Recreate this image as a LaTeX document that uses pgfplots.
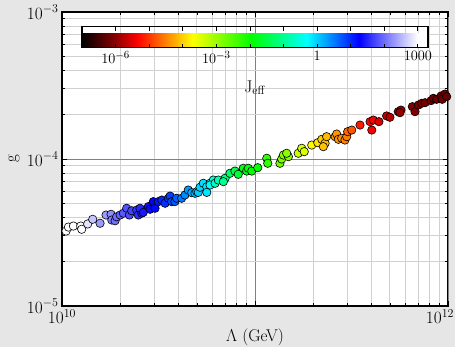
\documentclass[border=0pt]{standalone}
\usepackage{pgfplots}
\usepackage{pgfplotstable}
\pgfplotsset{compat=1.18}
\definecolor{bg}{RGB}{230,230,230}
\pgfplotstableread{
lx ly c
10.021 -4.490 3.1
10.033 -4.463 3.0
10.059 -4.456 3.0
10.097 -4.456 3.0
10.102 -4.478 3.0
10.133 -4.442 2.8
10.159 -4.410 2.6
10.197 -4.437 2.3
10.228 -4.381 2.3
10.254 -4.376 2.2
10.258 -4.415 2.1
10.275 -4.420 2.0
10.283 -4.393 2.0
10.301 -4.381 1.9
10.318 -4.369 1.85
10.335 -4.335 1.8
10.349 -4.381 1.75
10.361 -4.352 1.7
10.387 -4.347 1.6
10.395 -4.381 1.55
10.413 -4.369 1.45
10.404 -4.335 1.5
10.421 -4.363 1.4
10.447 -4.324 1.35
10.456 -4.342 1.3
10.473 -4.290 1.25
10.482 -4.335 1.2
10.499 -4.290 1.1
10.517 -4.279 1.0
10.534 -4.301 0.95
10.551 -4.267 0.9
10.560 -4.252 0.85
10.568 -4.290 0.8
10.585 -4.290 0.7
10.594 -4.267 0.65
10.620 -4.267 0.5
10.637 -4.245 0.4
10.654 -4.211 0.3
10.672 -4.229 0.2
10.689 -4.233 0.1
10.698 -4.222 0.05
10.706 -4.227 0.0
10.715 -4.192 -0.05
10.732 -4.165 -0.1
10.750 -4.188 -0.15
10.750 -4.227 -0.15
10.767 -4.165 -0.3
10.784 -4.143 -0.5
10.767 -4.177 -0.35
10.793 -4.165 -0.7
10.810 -4.143 -0.8
10.845 -4.131 -1.1
10.836 -4.154 -1.0
10.870 -4.097 -1.3
10.896 -4.082 -1.5
10.913 -4.104 -1.6
10.939 -4.063 -1.8
10.957 -4.082 -1.85
10.965 -4.063 -1.9
10.983 -4.082 -1.95
11.014 -4.059 -2.0
11.061 -3.995 -2.3
11.066 -4.029 -2.3
11.129 -4.029 -2.7
11.138 -4.000 -2.8
11.147 -3.973 -2.85
11.173 -3.984 -2.9
11.164 -3.961 -2.9
11.224 -3.961 -3.35
11.242 -3.927 -3.4
11.255 -3.950 -3.45
11.294 -3.905 -3.75
11.325 -3.889 -3.9
11.346 -3.866 -4.05
11.363 -3.893 -4.1
11.354 -3.916 -4.1
11.371 -3.848 -4.15
11.415 -3.848 -4.35
11.423 -3.830 -4.4
11.432 -3.866 -4.4
11.449 -3.859 -4.45
11.466 -3.871 -4.5
11.475 -3.848 -4.55
11.480 -3.814 -4.7
11.501 -3.803 -4.8
11.544 -3.769 -5.2
11.596 -3.746 -5.35
11.613 -3.735 -5.4
11.605 -3.803 -5.4
11.642 -3.746 -5.55
11.682 -3.707 -5.7
11.699 -3.716 -5.75
11.742 -3.678 -5.9
11.756 -3.667 -5.95
11.751 -3.685 -5.95
11.815 -3.644 -6.05
11.829 -3.678 -6.05
11.846 -3.633 -6.1
11.864 -3.621 -6.1
11.881 -3.617 -6.15
11.912 -3.603 -6.15
11.924 -3.587 -6.2
11.941 -3.594 -6.2
11.964 -3.571 -6.2
11.984 -3.558 -6.25
11.970 -3.594 -6.2
11.993 -3.576 -6.25
}\datatable

\begin{document}
\begin{tikzpicture}
\fill[bg] (-62pt,-41pt) rectangle (393pt,306pt);
\useasboundingbox (-62pt,-41pt) rectangle (393pt,306pt);
\begin{axis}[
  at={(0pt,0pt)}, anchor=south west,
  scale only axis, width=386pt, height=294pt,
  xmode=log, ymode=log,
  xmin=1e10, xmax=1e12, ymin=1e-5, ymax=1e-3,
  axis background/.style={fill=white},
  xtick={1e10,1e11,1e12}, xticklabels={$10^{10}$,,},
  extra x ticks={1e12}, extra x tick labels={$10^{12}$},
  extra x tick style={xticklabel style={xshift=-8pt}},
  ytick={1e-5,1e-4,1e-3}, yticklabels={$10^{-5}$,$10^{-4}$,$10^{-3}$},
  grid=both,
  major grid style={draw=black!50, line width=0.7pt},
  minor grid style={draw=black!18, line width=0.9pt},
  tick align=inside, tick pos=both,
  major tick length=5pt, minor tick length=3pt,
  every tick/.style={black, line width=0.8pt},
  axis line style={line width=1.6pt},
  tick label style={font=\fontsize{17}{20}\selectfont},
  xlabel={$\Lambda$ (GeV)}, ylabel={g},
  every axis x label/.style={at={(axis description cs:0.5,0)}, anchor=center, yshift=-31pt, font=\fontsize{17}{20}\selectfont},
  every axis y label/.style={at={(axis description cs:-0.124,0.5)}, anchor=center, rotate=90, font=\fontsize{17}{20}\selectfont},
  colormap={jeff}{rgb255(0cm)=(0,0,0); rgb255(9cm)=(128,0,0); rgb255(16cm)=(255,0,0); rgb255(24cm)=(255,128,0); rgb255(32cm)=(255,255,0); rgb255(49cm)=(0,255,0); rgb255(65cm)=(0,255,255); rgb255(80cm)=(0,0,255); rgb255(97cm)=(255,255,255); rgb255(100cm)=(255,255,255)},
  point meta min=-7, point meta max=3.3,
  colorbar horizontal,
  colorbar style={
    at={(parent axis.north west)}, anchor=north west, xshift=20pt, yshift=-6pt,
    scale only axis, width=346pt, height=21pt,
    xmode=normal, ymode=normal, grid=none,
    axis background/.style={},
    xtick={-7,-6,...,3},
    xticklabels={,$10^{-6}$,,,$10^{-3}$,,,$1$,,,$1000$},
    extra x ticks={}, extra x tick labels={},
    ytick=\empty, minor tick num=0,
    xtick pos=both, xticklabel pos=lower,
    tick align=inside, major tick length=4pt,
    every tick/.style={black, line width=0.9pt},
    axis line style={line width=1.4pt},
    tick label style={font=\fontsize{15.5}{18}\selectfont},
    xlabel={J$_{\mathrm{eff}}$}, ylabel={},
    every axis x label/.style={at={(axis description cs:0.5,0)}, anchor=center, yshift=-40pt, font=\fontsize{17}{20}\selectfont},
  },
]
\addplot[scatter, only marks, mark=*, mark size=4.2pt,
  scatter src=explicit,
  scatter/use mapped color={draw=black, fill=mapped color},
  mark options={line width=0.6pt}]
  table[x expr=10^\thisrow{lx}, y expr=10^\thisrow{ly}, meta=c] {\datatable};
\end{axis}
\end{tikzpicture}
\end{document}
